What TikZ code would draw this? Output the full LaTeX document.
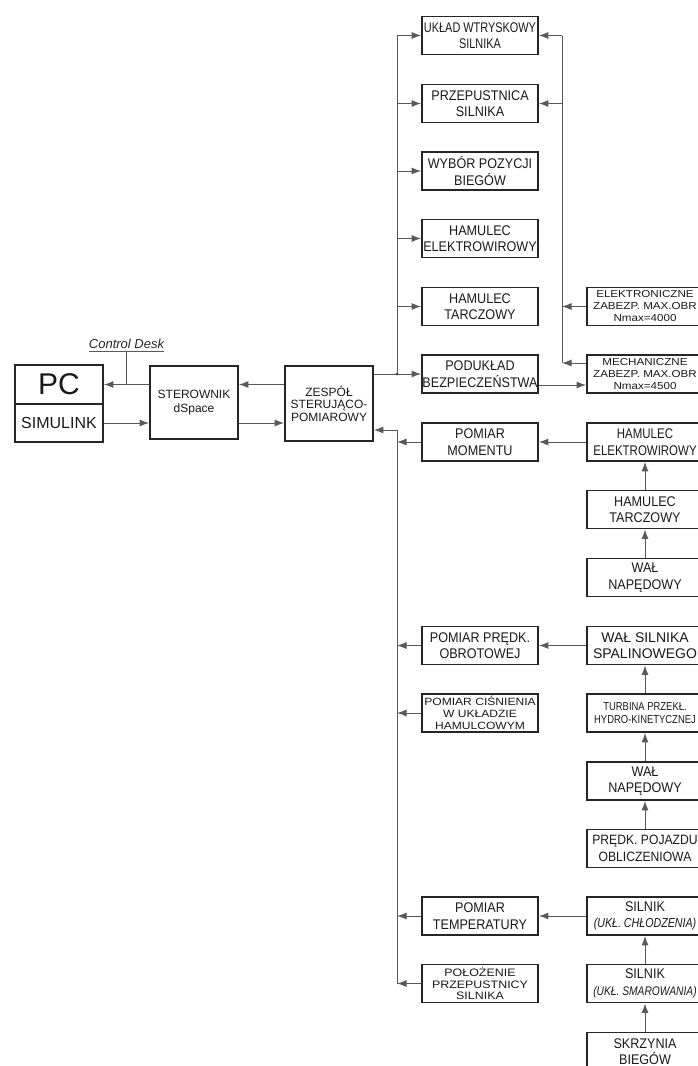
\documentclass[tikz,border=0pt]{standalone}
\usepackage{fontspec}
\setmainfont{Liberation Sans}
\newfontfamily\cnd{Liberation Sans}[FakeStretch=0.9]
\newfontfamily\cnde{Liberation Sans}[FakeStretch=0.82]
\newfontfamily\cndd{Liberation Sans}[FakeStretch=0.78]
\newfontfamily\wid{Liberation Sans}[FakeStretch=1.15]
\usetikzlibrary{arrows.meta,calc}
\begin{document}
\begin{tikzpicture}[x=1pt,y=-1pt,
 box/.style={draw=black!85, line width=1.8pt, minimum width=116pt, minimum height=38pt,
   inner sep=0pt, align=center, font=\cnd\fontsize{14}{16.5}\selectfont, text=black!90},
 smallbox/.style={box, minimum width=88pt},
 conn/.style={draw=black!65, line width=1pt},
 arr/.style={conn, -{Latex[length=9.5pt,width=7pt]}},
 widtxt/.style={font=\wid\fontsize{10.5}{12}\selectfont},
 rwidtxt/.style={font=\wid\fontsize{10.1}{12}\selectfont},
]
\useasboundingbox (0,0) rectangle (698,1066);

% left block
\node[smallbox, minimum height=39pt, font=\fontsize{30}{30}\selectfont] (pc) at (59,384.5) {PC};
\node[smallbox, minimum height=38pt, font=\fontsize{16}{16}\selectfont] (sim) at (59,423) {SIMULINK};
\node[smallbox, minimum height=73pt, font=\fontsize{12}{13.3}\selectfont] (ster) at (194,402.5) {STEROWNIK\\dSpace};
\node[smallbox, minimum height=75pt, font=\fontsize{12}{12.5}\selectfont] (zes) at (329,403.5) {ZESPÓŁ\\STERUJĄCO-\\POMIAROWY};
\node[inner sep=0pt, anchor=base, font=\itshape\fontsize{13}{13}\selectfont, text=black!85] (cd) at (126.5,348) {Control Desk};

% left column
\node[box, font=\cndd\fontsize{14}{16.5}\selectfont] (wtr) at (480,35.5) {UKŁAD WTRYSKOWY\\SILNIKA};
\node[box] (przep) at (480,103.5) {PRZEPUSTNICA\\SILNIKA};
\node[box] (wyb) at (480,171) {WYBÓR POZYCJI\\BIEGÓW};
\node[box] (hel) at (480,238.5) {HAMULEC\\ELEKTROWIROWY};
\node[box] (htar) at (480,306.5) {HAMULEC\\TARCZOWY};
\node[box] (pod) at (480,374) {PODUKŁAD\\BEZPIECZEŃSTWA};
\node[box] (pmom) at (480,442) {POMIAR\\MOMENTU};
\node[box] (pprd) at (480,645.5) {POMIAR PRĘDK.\\OBROTOWEJ};
\node[box, widtxt] (pcis) at (480,713) {POMIAR CIŚNIENIA\\W UKŁADZIE\\HAMULCOWYM};
\node[box] (ptemp) at (480,916) {POMIAR\\TEMPERATURY};
\node[box, font=\wid\fontsize{10.8}{11.7}\selectfont] (ppol) at (480,983.5) {POŁOŻENIE\\PRZEPUSTNICY\\SILNIKA};

% right column
\node[box, rwidtxt] (elek) at (645,306.5) {ELEKTRONICZNE\\ZABEZP. MAX.OBR\\Nmax=4000};
\node[box, rwidtxt] (mech) at (645,374) {MECHANICZNE\\ZABEZP. MAX.OBR\\Nmax=4500};
\node[box, font=\cnde\fontsize{14}{16.5}\selectfont] (rhel) at (645,442) {HAMULEC\\ELEKTROWIROWY};
\node[box] (rhtar) at (645,509.5) {HAMULEC\\TARCZOWY};
\node[box] (rwal1) at (645,577.5) {WAŁ\\NAPĘDOWY};
\node[box, font=\fontsize{14}{16.5}\selectfont] (rwals) at (645,645.5) {WAŁ SILNIKA\\SPALINOWEGO};
\node[box, font=\cnde\fontsize{11.5}{13}\selectfont] (rturb) at (645,713) {TURBINA PRZEKŁ.\\HYDRO-KINETYCZNEJ};
\node[box] (rwal2) at (645,781) {WAŁ\\NAPĘDOWY};
\node[box, font=\cnd\fontsize{13.5}{16.5}\selectfont] (rpr) at (645,848.5) {PRĘDK. POJAZDU\\OBLICZENIOWA};
\node[box] (rchl) at (645,916) {SILNIK\\{\cnde\fontsize{13}{16}\selectfont\itshape (UKŁ. CHŁODZENIA)}};
\node[box] (rsm) at (645,983.5) {SILNIK\\{\cnde\fontsize{12.5}{16}\selectfont\itshape (UKŁ. SMAROWANIA)}};
\node[box] (rsk) at (645,1051.5) {SKRZYNIA\\BIEGÓW};

% left block connectors
\draw[arr] (ster.west |- pc.east) -- (pc.east);
\draw[arr] (sim.east) -- (sim.east -| ster.west);
\draw[arr] (zes.west |- pc.east) -- (ster.east |- pc.east);
\draw[arr] (ster.east |- sim.east) -- (zes.west |- sim.east);
\draw[conn] ($(cd.base west)+(0,-3pt)$) -- ($(cd.base east)+(0,-3pt)$);
\draw[conn] ($(cd.base)+(0,-3pt)$) coordinate (cdu) -- (cdu |- pc.east);

% upper bus
\coordinate (ub) at (397,374);
\coordinate (ubt) at (397,35.5);
\draw[arr] (zes.east |- pod.west) -- (pod.west);
\draw[conn] (ub) -- (ubt);
\fill[black!70] (ub) circle (1.6pt);
\draw[arr] (ubt) -- (wtr.west);
\foreach \n in {przep,wyb,hel,htar} \draw[arr] (ub |- \n.west) -- (\n.west);

% right bus
\coordinate (rbt) at (562,35.5);
\coordinate (rbb) at (562,363);
\draw[conn] (rbt) -- (rbb);
\draw[arr] (rbt) -- (wtr.east);
\draw[arr] (rbt |- przep.east) -- (przep.east);
\draw[arr] (elek.west) -- (rbt |- elek.west);
\draw[arr] (rbb -| mech.west) -- (rbb);
\draw[arr] ($(pod.east)+(0,-11pt)$) coordinate (pme) -- (pme -| mech.west);

% lower bus
\coordinate (lbt) at (397,430);
\coordinate (lbb) at (397,983.5);
\draw[arr] (lbt) -- (lbt -| zes.east);
\draw[conn] (lbt) -- (lbb);
\foreach \n in {pmom,pprd,pcis,ptemp,ppol} \draw[arr] (\n.west) -- (lbt |- \n.west);

% right chains
\draw[arr] (rhel.west) -- (pmom.east);
\draw[arr] (rwals.west) -- (pprd.east);
\draw[arr] (rchl.west) -- (ptemp.east);
\draw[arr] (rhtar.north) -- (rhel.south);
\draw[arr] (rwal1.north) -- (rhtar.south);
\draw[arr] (rturb.north) -- (rwals.south);
\draw[arr] (rwal2.north) -- (rturb.south);
\draw[arr] (rpr.north) -- (rwal2.south);
\draw[arr] (rsm.north) -- (rchl.south);
\draw[arr] (rsk.north) -- (rsm.south);
\end{tikzpicture}
\end{document}
